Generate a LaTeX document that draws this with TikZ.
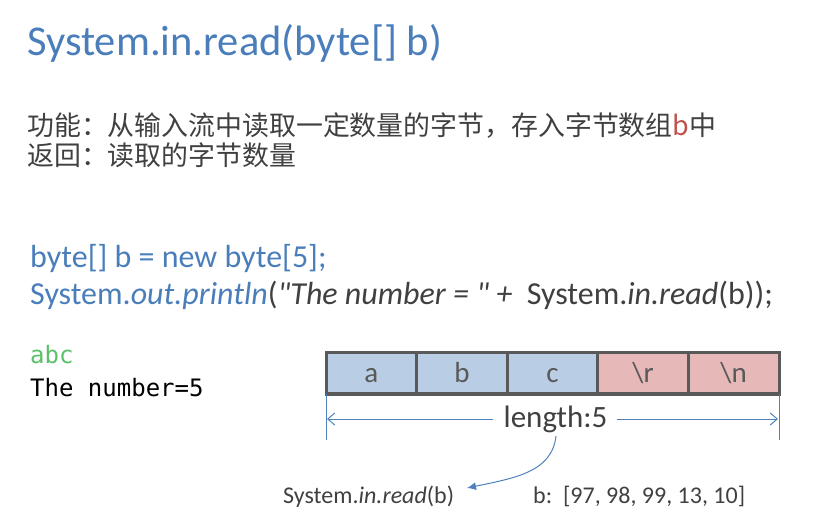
\documentclass[tikz,border=0pt]{standalone}
\usepackage{fontspec}
\setmainfont{Carlito}
\newfontfamily\qfont{Carlito}
\newfontfamily\cjk{Noto Sans CJK SC}
\newfontfamily\consolefont{DejaVu Sans Mono}
\usetikzlibrary{arrows.meta}
\definecolor{titleblue}{HTML}{4A7EBB}
\definecolor{txtgray}{HTML}{404040}
\definecolor{cellgray}{HTML}{595959}
\definecolor{cellblue}{HTML}{B9CDE5}
\definecolor{cellpink}{HTML}{E6B9B8}
\definecolor{redb}{HTML}{C0504D}
\definecolor{consolegreen}{HTML}{5CBF6A}
\definecolor{dimblue}{HTML}{4F81BD}
\newcommand{\sq}{{\qfont\itshape "}}
\tikzset{
  txt/.style={inner sep=0pt, anchor=base west, text=txtgray},
  cellbox/.style={draw=cellgray, line width=3pt, outer sep=0pt, minimum width=90.6pt, minimum height=41pt, inner sep=0pt, text height=19pt, text depth=0pt, anchor=north west, text=cellgray, font=\fontsize{29}{32}\selectfont},
  dimline/.style={draw=dimblue, line width=1pt},
}
\begin{document}
\begin{tikzpicture}[x=1pt,y=1pt]
\useasboundingbox (0,0) rectangle (825,-521);
% title
\node[txt, text=titleblue, font=\fontsize{42.5}{50}\selectfont] (title) at (27,-56) {System.in.read(byte[] b)};
% description
\node[txt, font=\cjk\fontsize{26.9}{30}\selectfont] (desc1) at (27,-136) {功能：从输入流中读取一定数量的字节，存入字节数组{\color{redb}b}中};
\node[txt, font=\cjk\fontsize{26.9}{30}\selectfont] (desc2) at (27,-166) {返回：读取的字节数量};
% code
\node[txt, text=titleblue, font=\fontsize{32}{36}\selectfont] (code1) at (30,-268) {byte[] b = new byte[5];};
\node[txt, font=\fontsize{32}{36}\selectfont] (code2) at (30,-305) {{\color{titleblue}System.\textit{out.println}}(\textit{\sq The number = \sq\ +}\ \ System.\textit{in.read}(b));};
% console
\node[txt, text=consolegreen, font=\consolefont\fontsize{24}{28}\selectfont] (con1) at (30,-363) {abc};
\node[txt, text=black, font=\consolefont\fontsize{24}{28}\selectfont] (con2) at (30,-396) {The number=5};
% cells
\node[cellbox, fill=cellblue] (c1) at (326,-353) {a};
\node[cellbox, fill=cellblue] (c2) at (c1.north east) {b};
\node[cellbox, fill=cellblue] (c3) at (c2.north east) {c};
\node[cellbox, fill=cellpink] (c4) at (c3.north east) {\textbackslash r};
\node[cellbox, fill=cellpink] (c5) at (c4.north east) {\textbackslash n};
% dimension
\coordinate (lb) at (326,-394);
\coordinate (lt) at (326,-440);
\coordinate (rb) at (779,-394);
\coordinate (rt) at (779,-440);
\draw[dimline] (lb) -- (lt);
\draw[dimline] (rb) -- (rt);
\node[txt, anchor=base, font=\fontsize{31}{36}\selectfont] (len) at (555.5,-428) {length:5};
\coordinate (la) at (327,-419);
\coordinate (ra) at (778,-419);
\draw[dimline, -{Straight Barb[length=7pt,width=12pt]}] ([xshift=-10pt]la -| len.west) -- (la);
\draw[dimline, -{Straight Barb[length=7pt,width=12pt]}] ([xshift=9pt]ra -| len.east) -- (ra);
% curve
\coordinate (cs) at (556,-436);
\coordinate (ce) at (467,-488);
\draw[dimline, -{Latex[length=9pt,width=8pt]}] (cs) .. controls (552,-472) and (515,-478) .. (ce);
% bottom
\node[txt, font=\fontsize{24}{28}\selectfont] (call) at (283,-503) {System.\textit{in.read}(b)};
\node[txt, font=\fontsize{24}{28}\selectfont] (arr) at (533,-503) {b:\ \ [97, 98, 99, 13, 10]};
\end{tikzpicture}
\end{document}
